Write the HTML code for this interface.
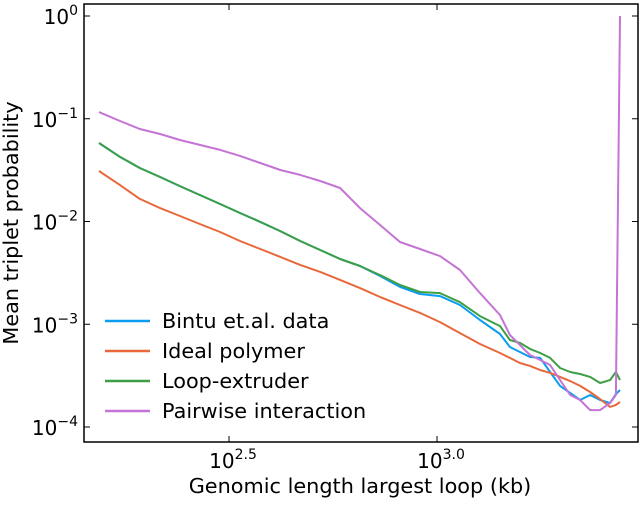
<!DOCTYPE html>
<html><head><meta charset="utf-8"><style>
body{margin:0;background:#fff;width:640px;height:500px;overflow:hidden}
svg{font-family:"DejaVu Sans","Liberation Sans",sans-serif}
</style></head><body>
<svg id="chart" width="640" height="500" viewBox="0 0 640 500">
<g id="series"></g>
<rect x="84" y="4" width="554" height="438" fill="none" stroke="#000" stroke-width="1.5"/>
<g id="axes"></g>
<text x="360" y="493" font-size="20.8" text-anchor="middle">Genomic length largest loop (kb)</text>
<text transform="translate(18,223) rotate(-90)" font-size="20.8" text-anchor="middle">Mean triplet probability</text>
<g font-size="20.8">
<g><line x1="105" y1="321" x2="150" y2="321" stroke="#0c9cf0" stroke-width="2.5"/><text x="162" y="328">Bintu et.al. data</text></g>
<g><line x1="105" y1="351" x2="150" y2="351" stroke="#e8683a" stroke-width="2.5"/><text x="162" y="358">Ideal polymer</text></g>
<g><line x1="105" y1="381" x2="150" y2="381" stroke="#3d9f45" stroke-width="2.5"/><text x="162" y="388">Loop-extruder</text></g>
<g><line x1="105" y1="411" x2="150" y2="411" stroke="#c474d4" stroke-width="2.5"/><text x="162" y="418">Pairwise interaction</text></g>
</g>
</svg>
<script>
const lengthsKb=[154,173,193,216,241,269,301,336,376,420,469,524,585,653,730,815,910,1017,1136,1269,1417,1497,1582,1673,1770,1870,1977,2090,2208,2333,2466,2606,2692,2754];
const idealValues=[3.1e-2,2.26e-2,1.66e-2,1.35e-2,1.13e-2,9.46e-3,7.9e-3,6.46e-3,5.4e-3,4.52e-3,3.78e-3,3.23e-3,2.70e-3,2.25e-3,1.84e-3,1.54e-3,1.29e-3,1.05e-3,8.2e-4,6.43e-4,5.25e-4,4.7e-4,4.2e-4,3.93e-4,3.59e-4,3.36e-4,3.07e-4,2.8e-4,2.51e-4,2.19e-4,1.87e-4,1.57e-4,1.64e-4,1.75e-4];
const loopValues=[5.81e-2,4.25e-2,3.32e-2,2.71e-2,2.21e-2,1.81e-2,1.48e-2,1.21e-2,9.9e-3,8.07e-3,6.46e-3,5.28e-3,4.32e-3,3.69e-3,3.01e-3,2.41e-3,2.06e-3,2.01e-3,1.64e-3,1.20e-3,9.6e-4,7.03e-4,6.58e-4,5.75e-4,5.25e-4,4.7e-4,3.75e-4,3.43e-4,3.28e-4,3.07e-4,2.68e-4,2.86e-4,3.43e-4,2.86e-4];
const bintuValues=[5.81e-2,4.25e-2,3.32e-2,2.71e-2,2.21e-2,1.81e-2,1.48e-2,1.21e-2,9.9e-3,8.07e-3,6.46e-3,5.28e-3,4.32e-3,3.69e-3,2.95e-3,2.31e-3,1.97e-3,1.88e-3,1.54e-3,1.10e-3,8.04e-4,6.01e-4,5.37e-4,4.8e-4,4.7e-4,3.43e-4,2.51e-4,2.14e-4,1.83e-4,2.05e-4,1.83e-4,1.71e-4,2.09e-4,2.29e-4];
const pairwiseValues=[0.116,9.5e-2,7.94e-2,7.11e-2,6.21e-2,5.56e-2,4.97e-2,4.35e-2,3.71e-2,3.17e-2,2.84e-2,2.48e-2,2.12e-2,1.35e-2,9.25e-3,6.31e-3,5.4e-3,4.61e-3,3.37e-3,2.01e-3,1.23e-3,7.86e-4,6.28e-4,5.02e-4,4.49e-4,4.01e-4,2.86e-4,2.05e-4,1.83e-4,1.46e-4,1.46e-4,1.71e-4,2.05e-4,1.0];
const yTickExps=[0,-1,-2,-3,-4];
const xTickExps=[2.5,3.0];

const NS="http://www.w3.org/2000/svg";
function xs(kb){return 229+(Math.log10(kb)-2.5)*416;}
function ys(v){return 16-Math.log10(v)*102.75;}
const sg=document.getElementById('series');
function addLine(vals,color,name){
  const p=document.createElementNS(NS,'polyline');
  p.setAttribute('points',lengthsKb.map((x,i)=>xs(x).toFixed(1)+','+ys(vals[i]).toFixed(1)).join(' '));
  p.setAttribute('fill','none');p.setAttribute('stroke',color);p.setAttribute('stroke-width','2');
  p.setAttribute('stroke-linejoin','round');
  
  
  sg.appendChild(p);
}
addLine(bintuValues,'#0c9cf0','bintu-line');
addLine(idealValues,'#e8683a','ideal-polymer-line');
addLine(loopValues,'#3d9f45','loop-extruder-line');
addLine(pairwiseValues,'#c474d4','pairwise-line');

const ax=document.getElementById('axes');
function el(tag,attrs){const e=document.createElementNS(NS,tag);for(const k in attrs)e.setAttribute(k,attrs[k]);ax.appendChild(e);return e;}
yTickExps.forEach(e=>{
  const y=ys(Math.pow(10,e));
  const t1=el('line',{x1:84,x2:90,y1:y,y2:y,stroke:'#000','stroke-width':1});
  
  
  const t2=el('line',{x1:632,x2:638,y1:y,y2:y,stroke:'#000','stroke-width':1});
  
  
  const tx=el('text',{x:78,y:y+8,'font-size':20,'text-anchor':'end'});
  
  
  tx.innerHTML='10<tspan dy="-9" font-size="14">'+(e===0?'0':'\u2212'+(-e))+'</tspan>';
});
xTickExps.forEach(e=>{
  const x=xs(Math.pow(10,e));
  const t1=el('line',{x1:x,x2:x,y1:436,y2:442,stroke:'#000','stroke-width':1});
  
  
  const t2=el('line',{x1:x,x2:x,y1:4,y2:10,stroke:'#000','stroke-width':1});
  
  
  const tx=el('text',{x:x+4,y:468,'font-size':20,'text-anchor':'middle'});
  
  
  tx.innerHTML='10<tspan dy="-9" font-size="14">'+e.toFixed(1)+'</tspan>';
});
</script>
</body></html>
